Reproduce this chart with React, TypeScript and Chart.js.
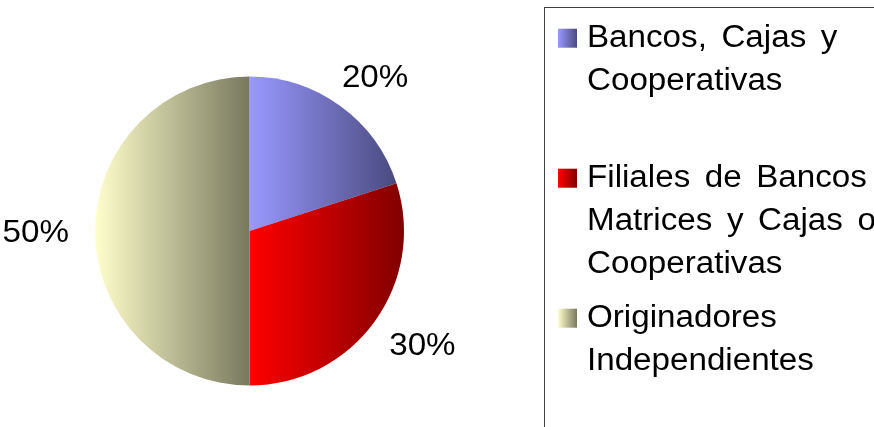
import React, { useEffect, useRef } from "react";
import { Chart, registerables } from "chart.js";

Chart.register(...registerables);

// ---- data ----
const categories: string[][] = [
  ["Bancos, Cajas y", "Cooperativas"],
  ["Filiales de Bancos", "Matrices y Cajas o", "Cooperativas"],
  ["Originadores", "Independientes"],
];
const shares: number[] = [20, 30, 50];
const percentLabels: string[] = shares.map((v) => `${v}%`);

// ---- styles ----
const lightColors = ["#9999FF", "#FF0000", "#FFFFCC"];
const darkColors = ["#4A4A80", "#800000", "#78785E"];
const FONT = '"Liberation Sans", Arial, sans-serif';
const FS = 31;
const SX = 1.07; // horizontal stretch of the text
const CAP = FS * 0.716;

function sectorXRange(cx: number, r: number, a0: number, a1: number) {
  const xs = [cx, cx + r * Math.cos(a0), cx + r * Math.cos(a1)];
  for (let k = -3; k <= 3; k++) {
    const ang = k * Math.PI;
    if (ang >= a0 && ang <= a1) xs.push(cx + r * Math.cos(ang));
  }
  return [Math.min(...xs), Math.max(...xs)];
}

function sliceFill(ctx: any) {
  const i = ctx.dataIndex;
  if (i === undefined || i === null) return lightColors[0];
  const chart = ctx.chart;
  const area = chart.chartArea;
  if (!area) return lightColors[i];
  const cx = (area.left + area.right) / 2;
  const r = Math.min(area.right - area.left, area.bottom - area.top) / 2;
  const total = shares.reduce((a, b) => a + b, 0);
  const before = shares.slice(0, i).reduce((a, b) => a + b, 0);
  const a0 = -Math.PI / 2 + (2 * Math.PI * before) / total;
  const a1 = a0 + (2 * Math.PI * shares[i]) / total;
  const [x0, x1] = sectorXRange(cx, r, a0, a1);
  const g = chart.ctx.createLinearGradient(x0, 0, x1, 0);
  g.addColorStop(0, lightColors[i]);
  g.addColorStop(1, darkColors[i]);
  return g;
}

function drawText(c: CanvasRenderingContext2D, text: string, x: number, y: number) {
  c.save();
  c.translate(x, y);
  c.scale(SX, 1);
  c.fillText(text, 0, 0);
  c.restore();
}

const overlayPlugin = {
  id: "overlay",
  afterDraw(chart: any) {
    const c: CanvasRenderingContext2D = chart.ctx;
    const meta = chart.getDatasetMeta(0);
    c.save();
    c.font = `${FS}px ${FONT}`;
    c.fillStyle = "#000";
    c.textBaseline = "alphabetic";
    c.textAlign = "left";
    // percentage labels outside the slices
    meta.data.forEach((arc: any, i: number) => {
      const p = arc.getProps(["x", "y", "startAngle", "endAngle", "outerRadius"], true);
      const mid = (p.startAngle + p.endAngle) / 2;
      const text = percentLabels[i];
      const w = c.measureText(text).width * SX;
      const cos = Math.cos(mid);
      const sin = Math.sin(mid);
      const R = p.outerRadius + 26;
      const tx = p.x + R * cos + (w / 2) * cos;
      const ty = p.y + R * sin + (CAP / 2) * sin;
      drawText(c, text, tx - w / 2, ty + CAP / 2);
    });

    // legend box
    const boxLeft = 544.5;
    const boxTop = 7.5;
    c.strokeStyle = "#404040";
    c.lineWidth = 1;
    c.strokeRect(boxLeft, boxTop, 500, 600);

    const markerX = 558;
    const markerSize = 19;
    const textX = 587;
    const firstBaseline = 46.8;
    const slot = 140;
    const lineH = 43;
    try {
      (c as any).wordSpacing = "5px";
    } catch (e) {}
    categories.forEach((lines, i) => {
      const base = firstBaseline + slot * i;
      const capCenter = base - CAP / 2;
      const my = capCenter + 2.5 - markerSize / 2;
      const g = c.createLinearGradient(markerX, 0, markerX + markerSize, 0);
      g.addColorStop(0, lightColors[i]);
      g.addColorStop(1, darkColors[i]);
      c.fillStyle = g;
      c.fillRect(markerX, my, markerSize, markerSize);
      c.fillStyle = "#000";
      lines.forEach((line, j) => drawText(c, line, textX, base + lineH * j));
    });
    c.restore();
  },
};

export default function App() {
  const ref = useRef<HTMLCanvasElement>(null);
  useEffect(() => {
    const chart = new Chart(ref.current as HTMLCanvasElement, {
      type: "pie",
      data: {
        labels: categories.map((c) => c.join(" ")),
        datasets: [
          {
            data: shares,
            backgroundColor: sliceFill as any,
            borderWidth: 0,
            hoverOffset: 0,
            offset: 0,
          } as any,
        ],
      },
      options: {
        responsive: false,
        animation: false,
        events: [],
        layout: { padding: { left: 95, top: 76.5, right: 470, bottom: 41.5 } },
        plugins: { legend: { display: false }, tooltip: { enabled: false } },
      },
      plugins: [overlayPlugin],
    });
    return () => chart.destroy();
  }, []);
  return (
    <div style={{ position: "fixed", left: 0, top: 0, width: 874, height: 427, background: "#fff" }}>
      <canvas ref={ref} width={874} height={427} style={{ display: "block" }} />
    </div>
  );
}
